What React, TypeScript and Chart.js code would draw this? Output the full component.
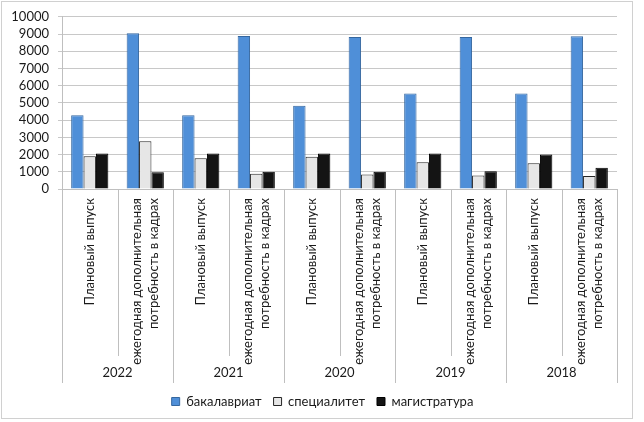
import { useEffect, useRef } from 'react'
import { Chart, registerables } from 'chart.js'

Chart.register(...registerables)

const categories = [
  ['Плановый выпуск'],
  ['ежегодная дополнительная', 'потребность в кадрах'],
  ['Плановый выпуск'],
  ['ежегодная дополнительная', 'потребность в кадрах'],
  ['Плановый выпуск'],
  ['ежегодная дополнительная', 'потребность в кадрах'],
  ['Плановый выпуск'],
  ['ежегодная дополнительная', 'потребность в кадрах'],
  ['Плановый выпуск'],
  ['ежегодная дополнительная', 'потребность в кадрах'],
]
const years = ['2022', '2021', '2020', '2019', '2018']

const bachelor = [4280, 9050, 4280, 8890, 4840, 8830, 5540, 8830, 5540, 8870]
const specialist = [1900, 2780, 1790, 880, 1870, 840, 1560, 780, 1500, 760]
const master = [2060, 970, 2060, 1000, 2060, 1000, 2060, 1030, 2000, 1230]

const FONT = 'Lato'
const FS = 13

// draws the rotated category labels and the divider lines of the two-level axis
const groupAxis = {
  id: 'groupAxis',
  afterLayout(chart: any) {
    if (chart.legend) {
      chart.legend.left += 14
      chart.legend.right += 14
    }
  },
  afterDraw(chart: any) {
    const { ctx, chartArea } = chart
    const x = chart.scales.x
    const x2 = chart.scales.x2
    const n = categories.length
    ctx.save()
    ctx.strokeStyle = '#bfbfbf'
    ctx.lineWidth = 1
    for (let i = 0; i <= n; i++) {
      let px
      if (i === 0) px = chartArea.left
      else if (i === n) px = chartArea.right
      else px = (x.getPixelForValue(i - 1) + x.getPixelForValue(i)) / 2
      px = Math.round(px) + 0.5
      const bottom = i % 2 === 0 ? x2.bottom : x.bottom
      ctx.beginPath()
      ctx.moveTo(px, chartArea.bottom)
      ctx.lineTo(px, bottom)
      ctx.stroke()
    }
    ctx.fillStyle = '#1a1a1a'
    ctx.font = `${FS}px ${FONT}`
    ctx.textAlign = 'right'
    ctx.textBaseline = 'middle'
    const lh = 17
    categories.forEach((lines, i) => {
      ctx.save()
      ctx.translate(x.getPixelForValue(i), chartArea.bottom + 9)
      ctx.rotate(-Math.PI / 2)
      lines.forEach((line, j) => {
        ctx.fillText(line, 0, (j - (lines.length - 1) / 2) * lh)
      })
      ctx.restore()
    })
    ctx.restore()
  },
}

export default function App() {
  const chartRef = useRef<HTMLCanvasElement>(null)

  useEffect(() => {
    document.body.style.margin = '0'
    if (!chartRef.current) return
    const ctx = chartRef.current.getContext('2d')
    if (!ctx) return

    const chart = new Chart(ctx, {
      type: 'bar',
      data: {
        labels: categories.map(c => c.join(' ')),
        datasets: [
          {
            label: 'бакалавриат',
            data: bachelor,
            backgroundColor: '#4f8fd8',
            borderColor: '#35679f',
            borderWidth: 1,
          },
          {
            label: 'специалитет',
            data: specialist,
            backgroundColor: '#e6e6e6',
            borderColor: '#262626',
            borderWidth: 1,
          },
          {
            label: 'магистратура',
            data: master,
            backgroundColor: '#141414',
            borderColor: '#000000',
            borderWidth: 1,
          },
        ],
      },
      options: {
        animation: false,
        responsive: false,
        devicePixelRatio: 1,
        layout: { padding: { top: 14, right: 27, left: 0, bottom: 4 } },
        datasets: {
          bar: { categoryPercentage: 0.67, barPercentage: 1 },
        },
        scales: {
          x: {
            offset: true,
            grid: { display: false },
            border: { display: true, color: '#bfbfbf' },
            ticks: { display: false },
            afterFit: (s: any) => {
              s.height = 167
            },
          },
          x2: {
            type: 'category',
            labels: years,
            position: 'bottom',
            offset: true,
            grid: { display: false },
            border: { display: false },
            ticks: {
              color: '#1a1a1a',
              font: { family: FONT, size: FS },
              padding: 1,
            },
            afterFit: (s: any) => {
              s.height = 27
            },
          },
          y: {
            min: 0,
            max: 10000,
            grid: { color: '#c8c8c8', tickLength: 4 },
            border: { display: true, color: '#bfbfbf' },
            ticks: {
              stepSize: 1000,
              autoSkip: false,
              color: '#1a1a1a',
              font: { family: FONT, size: FS },
              padding: 9,
              callback: (v: any) => String(v),
            },
            afterFit: (s: any) => {
              s.width = 62
            },
          },
        },
        plugins: {
          legend: {
            position: 'bottom',
            labels: {
              color: '#1a1a1a',
              font: { family: FONT, size: FS },
              boxWidth: 8,
              boxHeight: 8,
              padding: 12,
            },
          },
          tooltip: { enabled: false },
        },
      },
      plugins: [groupAxis],
    })

    return () => chart.destroy()
  }, [])

  return (
    <div style={{ position: 'relative', width: 644, height: 422, background: '#fff' }}>
      <canvas ref={chartRef} width={644} height={422} />
      <div
        style={{
          position: 'absolute',
          left: 1,
          top: 1,
          width: 632,
          height: 418,
          border: '1px solid #d0d0d0',
          boxSizing: 'border-box',
          pointerEvents: 'none',
        }}
      />
    </div>
  )
}
